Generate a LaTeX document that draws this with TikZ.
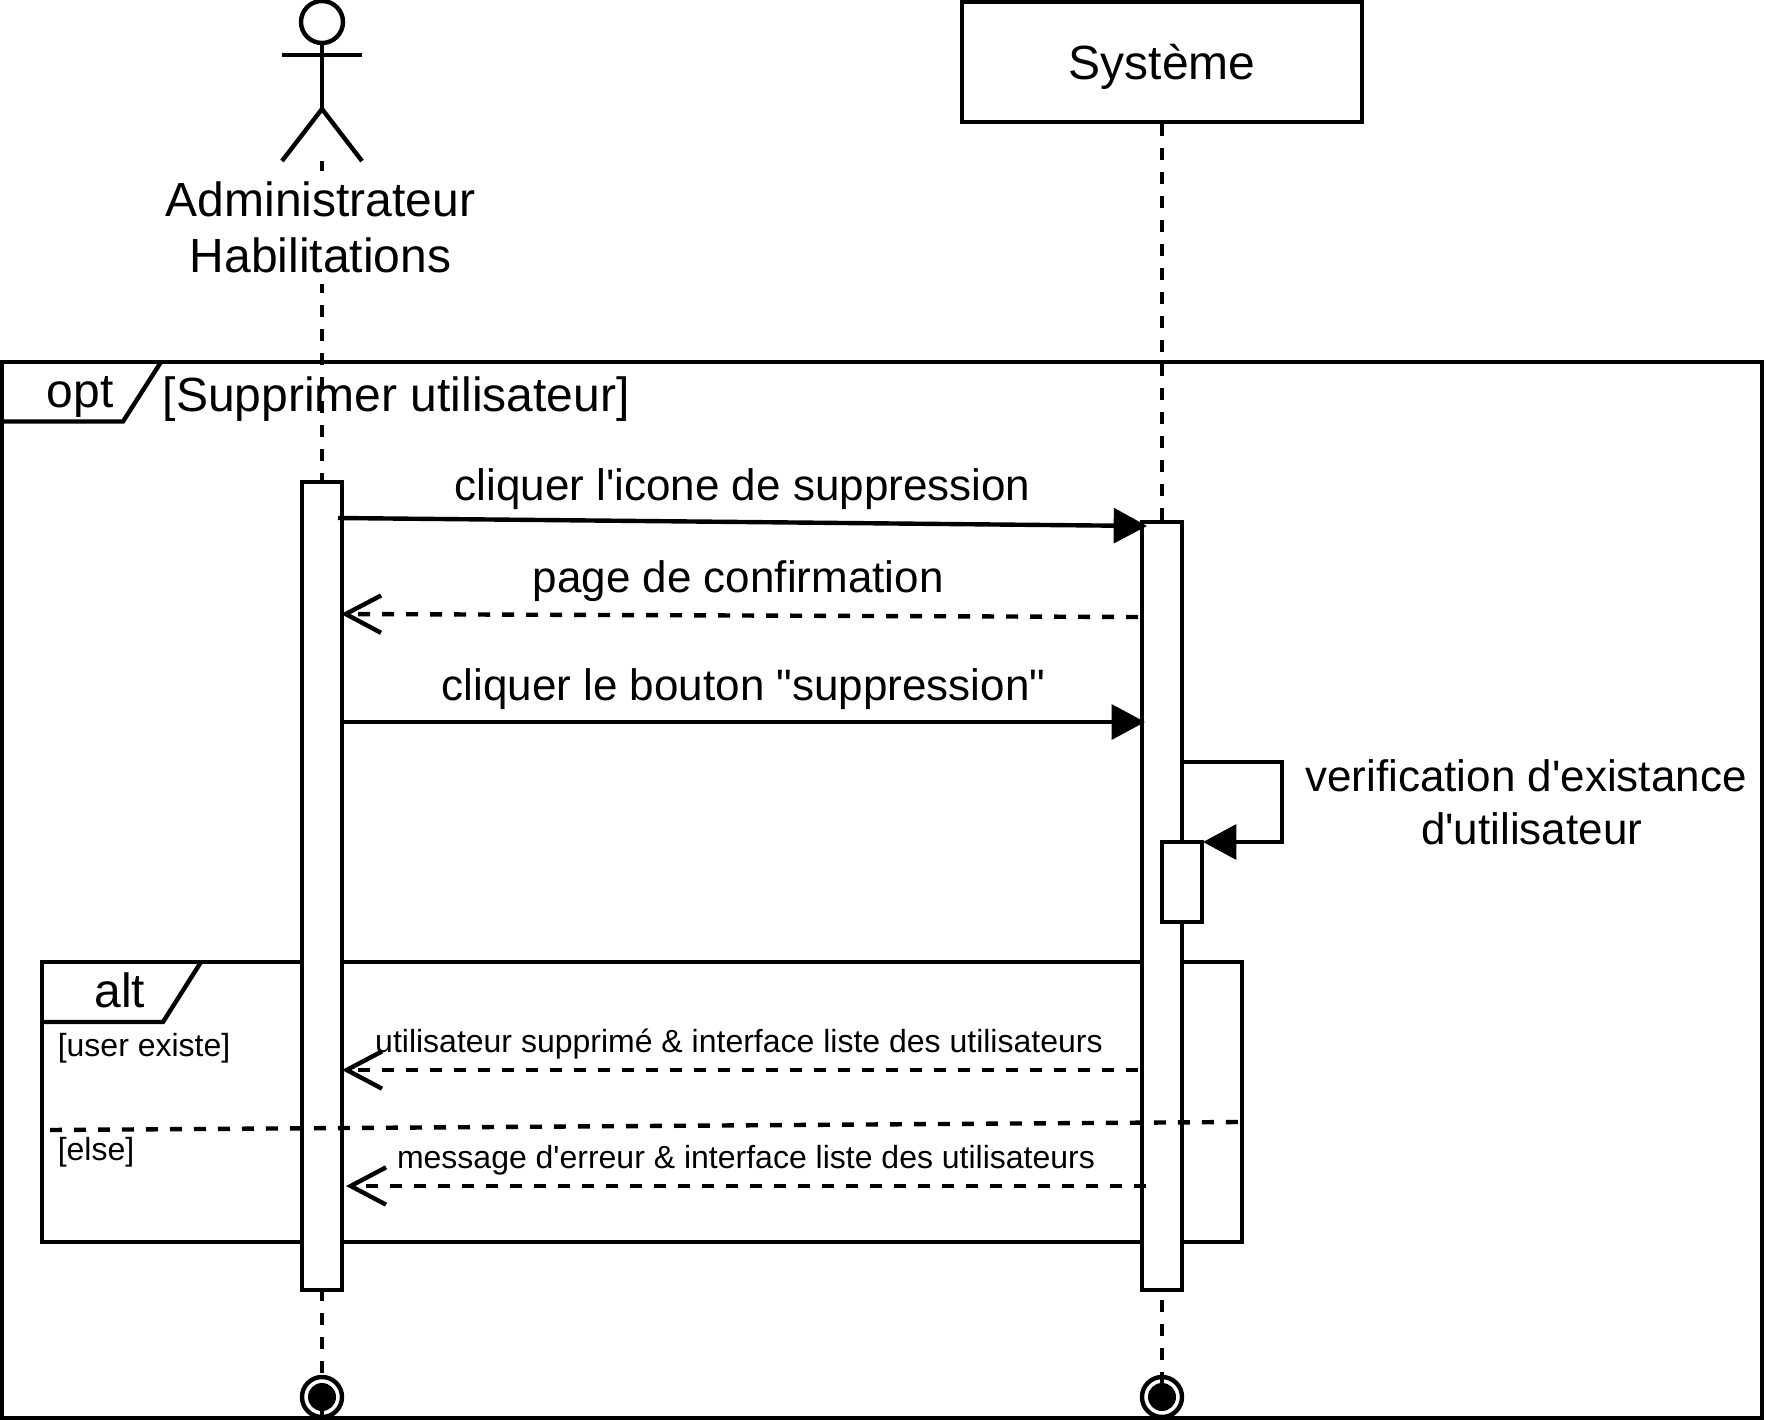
\documentclass[tikz,border=0pt]{standalone}
\usepackage{fontspec}
\newfontfamily\plainsans[Ligatures=NoCommon]{Liberation Sans}
\usetikzlibrary{positioning, arrows.meta}

\begin{document}
\begin{tikzpicture}[
		x=0.75pt, y=-0.75pt,
		line width=3.3pt,
		% Define styles for the nodes
		lifebox/.style={
			rectangle, draw, fill=white, inner sep=0pt, minimum width=300pt, minimum height=90pt,
			font=\plainsans\fontsize{36}{43.2}\selectfont
		},
		framebox/.style={
			rectangle, draw, inner sep=0pt
		},
		barbox/.style={
			rectangle, draw, fill=white, inner sep=0pt, minimum width=30pt
		},
		headbox/.style={
			circle, draw, inner sep=0pt, minimum size=31.5pt
		},
		endbox/.style={
			circle, draw, fill=white, inner sep=0pt, minimum size=30pt,
			path picture={\fill[black] (path picture bounding box.center) circle (10.5pt);}
		},
		bigtext/.style={
			inner sep=0pt, font=\plainsans\fontsize{36}{43.2}\selectfont
		},
		msgtext/.style={
			inner sep=0pt, anchor=base, font=\plainsans\fontsize{33}{39.6}\selectfont
		},
		smalltext/.style={
			inner sep=0pt, anchor=base, font=\plainsans\fontsize{24}{28.8}\selectfont
		},
		% Define styles for the connectors
		lifeline/.style={
			dash pattern=on 9pt off 9pt
		},
		call/.style={
			-{Triangle[length=25pt, width=26pt]}
		},
		reply/.style={
			-{Straight Barb[length=26.5pt, width=28pt]}, dash pattern=on 9pt off 9pt
		}
		]
		
		\useasboundingbox (0,0) rectangle (1768,1420);
		
		% Define the two frames
		\node[framebox, minimum width=1320pt, minimum height=792pt] (optframe) at (882,890) {};
		\node[framebox, minimum width=900pt, minimum height=210pt] (altframe) at (642,1102) {};
		\draw (2,421.5) -- (123,421.5) -- (161,362);
		\draw (42,1022) -- (163,1022) -- (201,962);
		\node[bigtext, anchor=base] (opttag) at (80,407) {opt};
		\node[bigtext, anchor=base] (alttag) at (120,1007) {alt};
		\node[bigtext, anchor=base west] (optguard) at (160.5,411) {[Supprimer utilisateur]};
		\node[smalltext, anchor=base west] (userguard) at (55.6,1056) {[user existe]};
		\node[smalltext, anchor=base west] (elseguard) at (55.6,1160) {[else]};
		
		% Define the actor
		\node[headbox] (head) at (322,22) {};
		\coordinate (armleft) at (282,55);
		\coordinate (armright) at (362,55);
		\coordinate (hip) at (322,109);
		\coordinate (footleft) at (282,161);
		\coordinate (footright) at (362,161);
		\coordinate (foot) at (322,161);
		\draw (head) -- (hip);
		\draw (armleft) -- (armright);
		\draw (footleft) -- (hip) -- (footright);
		
		% Define the system box and the two ends
		\node[lifebox] (system) at (1162,62) {\raisebox{-13.5pt}[0pt][0pt]{Système}};
		\node[endbox] (adminend) at (322,1397) {};
		\node[endbox] (systemend) at (1162,1397) {};
		
		% Draw the lifelines
		\draw[lifeline] (foot) -- (adminend.south);
		\draw[lifeline] (system) -- (systemend.south);
		\node[bigtext, fill=white, align=center, minimum height=84.75pt] (admin) at (320.5,227) {Administrateur \\[-1.2pt] Habilitations};
		
		% Define the activation bars
		\node[barbox, minimum height=606pt] (adminbar) at (322,886) {};
		\node[barbox, minimum height=576pt] (systembar) at (1162,906) {};
		\node[barbox, minimum height=60pt] (selfbar) at (1182,882) {};
		
		% Define the ends of the messages
		\coordinate (clickstart) at (338,518);
		\coordinate (clickend) at (1147,526);
		\coordinate (pagestart) at (1138,617);
		\coordinate (pageend) at (341,614);
		\coordinate (buttonstart) at (342,722);
		\coordinate (buttonend) at (1145,722);
		\coordinate (checkstart) at (1182,762);
		\coordinate (checkend) at (1203,842);
		\coordinate (donestart) at (1138,1070);
		\coordinate (doneend) at (342,1070);
		\coordinate (errorstart) at (1146,1186);
		\coordinate (errorend) at (346,1186);
		\coordinate (splitleft) at (50,1130);
		\coordinate (splitright) at (1238,1122);
		
		% Draw the messages
		\draw[call] (clickstart) -- (clickend) node[midway, msgtext, yshift=16.3pt] (clicktext) {cliquer l'icone de suppression};
		\draw[reply] (pagestart) -- (pageend) node[midway, msgtext, yshift=17.3pt, xshift=-1pt] (pagetext) {page de confirmation};
		\draw[call] (buttonstart) -- (buttonend) node[midway, msgtext, yshift=16.3pt] (buttontext) {cliquer le bouton "suppression"};
		\draw[call] (checkstart) -- (1282,762) -- (1282,842) -- (checkend);
		\node[msgtext, align=center, anchor=center] (checktext) at (1526,802) {verification d'existance \\ \hspace*{8.4pt}d'utilisateur};
		\draw[reply] (donestart) -- (doneend) node[midway, smalltext, yshift=13.5pt, xshift=-0.8pt] (donetext) {utilisateur supprimé \& interface liste des utilisateurs};
		\draw[lifeline] (splitleft) -- (splitright);
		\draw[reply] (errorstart) -- (errorend) node[midway, smalltext, yshift=13.2pt] (errortext) {message d'erreur \& interface liste des utilisateurs};
		
	\end{tikzpicture}
\end{document}
